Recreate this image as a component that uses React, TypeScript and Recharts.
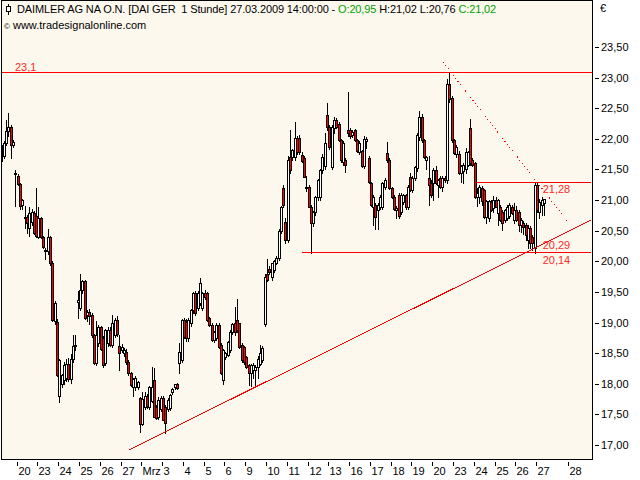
import React from "react";
import {
  ComposedChart,
  Bar,
  XAxis,
  YAxis,
  CartesianGrid,
  ReferenceLine,
  ReferenceDot,
} from "recharts";

// hourly candles, [open, high, low, close]
const candles: number[][] = [
  [21.82, 21.9, 21.63, 21.8], [21.72, 21.96, 21.68, 21.94], [21.94, 22.3, 21.9, 22.12], [22.12, 22.42, 22.05, 22.2],
  [22.2, 22.22, 21.68, 21.9], [21.9, 21.98, 21.86, 21.95], [21.43, 21.49, 20.9, 21.45], [21.4, 21.42, 21.24, 21.26],
  [21.26, 21.28, 20.85, 20.9], [20.92, 21.02, 20.86, 21.0], [20.73, 20.9, 20.55, 20.72], [20.72, 20.75, 20.47, 20.63],
  [20.55, 20.88, 20.41, 20.79], [20.64, 20.85, 20.6, 20.81], [20.79, 20.82, 20.44, 20.46], [20.74, 21.2, 20.4, 20.42],
  [20.4, 20.89, 20.38, 20.7], [20.7, 20.72, 20.38, 20.4], [20.4, 20.42, 20.22, 20.24], [20.16, 20.22, 20.03, 20.19],
  [20.16, 20.52, 20.12, 20.4], [20.4, 20.42, 19.94, 19.97], [19.97, 20.0, 19.02, 19.04], [19.02, 19.35, 18.98, 19.32],
  [19.01, 19.05, 18.12, 18.15], [17.8, 18.4, 17.7, 18.38], [17.99, 18.16, 17.95, 18.14], [18.06, 18.35, 18.0, 18.3],
  [18.1, 18.4, 18.05, 18.32], [18.32, 18.42, 18.05, 18.08], [18.08, 18.48, 18.02, 18.4], [18.4, 18.8, 18.35, 18.62],
  [18.62, 18.8, 18.55, 18.64], [19.34, 19.52, 19.08, 19.37], [19.24, 19.8, 19.2, 19.53], [19.53, 19.7, 19.48, 19.67],
  [19.67, 19.7, 19.05, 19.07], [19.12, 19.2, 19.02, 19.17], [19.17, 19.22, 18.98, 19.1], [19.12, 19.15, 18.77, 18.79],
  [18.79, 18.82, 18.32, 18.34], [18.34, 19.03, 18.3, 18.79], [18.67, 18.96, 18.62, 18.93], [18.93, 18.95, 18.55, 18.56],
  [18.75, 18.78, 18.28, 18.31], [18.34, 18.9, 18.3, 18.88], [18.67, 18.92, 18.62, 18.88], [18.88, 18.92, 18.62, 18.64],
  [18.64, 19.13, 18.6, 19.0], [18.8, 19.08, 18.76, 19.04], [19.04, 19.1, 18.78, 18.82], [18.62, 18.8, 18.23, 18.5],
  [18.55, 18.65, 18.52, 18.6], [18.5, 18.58, 18.46, 18.55], [18.52, 18.56, 18.33, 18.35], [18.36, 18.38, 18.15, 18.17],
  [18.17, 18.2, 17.96, 17.98], [17.94, 18.1, 17.8, 18.08], [17.94, 18.12, 17.9, 18.1], [17.95, 18.05, 17.92, 18.03],
  [17.77, 17.78, 17.21, 17.35], [17.35, 17.86, 17.32, 17.75], [17.62, 17.86, 17.58, 17.8], [17.8, 17.84, 17.6, 17.64],
  [17.62, 17.96, 17.58, 17.94], [17.72, 18.27, 17.7, 17.94], [18.06, 18.25, 17.45, 17.46], [17.62, 17.65, 17.42, 17.44],
  [17.46, 17.78, 17.42, 17.73], [17.58, 17.8, 17.55, 17.77], [17.77, 17.8, 17.4, 17.41], [17.62, 17.65, 17.2, 17.36],
  [17.58, 17.76, 17.55, 17.74], [17.6, 17.84, 17.57, 17.82], [17.86, 17.93, 17.84, 17.92], [17.94, 18.0, 17.92, 17.99],
  [18.0, 18.02, 17.92, 17.93], [18.34, 18.67, 18.18, 18.52], [18.39, 19.06, 18.35, 19.04], [19.04, 19.08, 18.75, 18.77],
  [19.01, 19.05, 18.7, 18.74], [18.74, 19.07, 18.7, 19.04], [18.99, 19.22, 18.95, 19.2], [19.2, 19.5, 19.15, 19.48],
  [19.48, 19.52, 19.12, 19.15], [19.24, 19.52, 19.2, 19.49], [19.32, 19.73, 19.28, 19.65], [19.24, 19.5, 19.2, 19.48],
  [19.49, 19.53, 19.38, 19.42], [19.48, 19.5, 19.02, 19.04], [19.07, 19.09, 18.94, 18.96], [18.96, 18.99, 18.7, 18.71],
  [18.71, 18.86, 18.68, 18.84], [18.75, 18.99, 18.72, 18.96], [18.96, 18.99, 18.58, 18.6], [18.63, 18.66, 18.16, 18.18],
  [18.06, 18.56, 18.0, 18.55], [18.44, 18.52, 18.4, 18.5], [18.47, 18.7, 18.45, 18.68], [18.55, 18.88, 18.52, 18.84],
  [18.84, 19.0, 18.82, 18.98], [19.0, 19.25, 18.8, 18.84], [19.04, 19.38, 18.85, 18.88], [18.99, 19.0, 18.58, 18.6],
  [18.63, 18.66, 18.36, 18.38], [18.6, 18.62, 18.33, 18.35], [18.43, 18.45, 18.25, 18.27], [18.3, 18.32, 17.98, 18.18],
  [18.18, 18.32, 17.96, 18.3], [18.22, 18.34, 18.1, 18.3], [18.22, 18.3, 17.98, 18.27], [18.27, 18.45, 18.1, 18.4],
  [18.33, 18.63, 18.3, 18.5], [18.39, 18.62, 18.35, 18.58], [18.98, 19.8, 18.95, 19.74], [19.79, 20.03, 19.68, 19.7],
  [19.88, 19.92, 19.8, 19.82], [19.74, 19.98, 19.7, 19.97], [19.86, 20.02, 19.83, 20.0], [19.97, 20.08, 19.95, 20.05],
  [20.05, 20.52, 20.02, 20.5], [20.5, 20.9, 20.47, 20.88], [21.2, 21.25, 20.88, 20.92], [20.64, 20.7, 20.3, 20.35],
  [20.35, 21.72, 20.32, 21.65], [21.7, 22.14, 21.45, 21.49], [21.7, 21.84, 21.65, 21.82], [21.7, 22.27, 21.66, 22.01],
  [22.01, 22.05, 21.76, 21.79], [22.01, 22.06, 21.75, 21.78], [21.74, 21.78, 21.62, 21.63], [21.69, 21.72, 21.37, 21.38],
  [21.2, 21.4, 21.15, 21.22], [21.21, 21.24, 20.88, 20.89], [20.89, 20.92, 20.14, 20.63], [20.63, 20.82, 20.58, 20.8],
  [20.8, 21.06, 20.75, 21.05], [21.05, 21.34, 21.0, 21.32], [21.05, 21.5, 21.0, 21.49], [21.49, 21.75, 21.45, 21.7],
  [21.55, 22.1, 21.5, 21.93], [22.39, 22.58, 22.15, 22.19], [22.19, 22.22, 21.84, 21.86], [21.54, 22.22, 21.5, 22.19],
  [22.17, 22.35, 22.1, 22.3], [22.31, 22.34, 22.18, 22.2], [22.24, 22.27, 21.96, 21.98], [21.98, 22.0, 21.62, 21.65],
  [21.62, 21.96, 21.58, 21.93], [21.65, 21.68, 21.46, 21.57], [22.14, 22.76, 22.05, 22.1], [22.14, 22.18, 22.02, 22.04],
  [22.06, 22.15, 22.03, 22.11], [22.14, 22.16, 21.96, 21.98], [21.98, 22.0, 21.78, 21.8], [21.78, 21.97, 21.76, 21.93],
  [21.8, 21.82, 21.54, 21.55], [21.55, 22.05, 21.52, 22.0], [21.96, 22.03, 21.85, 22.0], [21.69, 21.72, 21.28, 21.3],
  [21.28, 21.3, 20.9, 20.92], [20.89, 21.08, 20.6, 21.05], [20.92, 20.95, 20.52, 20.72], [20.84, 20.95, 20.52, 20.92],
  [20.89, 21.08, 20.85, 21.05], [20.89, 21.3, 20.85, 21.28], [21.22, 21.36, 21.18, 21.33], [21.77, 21.95, 21.62, 21.65],
  [21.65, 21.68, 21.18, 21.2], [21.2, 21.22, 21.04, 21.05], [21.05, 21.08, 20.83, 20.85], [20.84, 20.9, 20.7, 20.87],
  [21.08, 21.12, 20.7, 20.74], [20.81, 21.12, 20.78, 21.08], [20.97, 21.1, 20.94, 21.08], [21.08, 21.1, 20.86, 20.88],
  [20.88, 21.25, 20.85, 21.21], [21.38, 21.45, 21.15, 21.16], [21.16, 21.4, 21.13, 21.36], [21.36, 21.56, 21.33, 21.54],
  [21.52, 22.1, 21.48, 22.06], [22.03, 22.45, 21.98, 22.36], [22.36, 22.4, 21.95, 21.98], [21.98, 22.0, 21.68, 21.7],
  [21.65, 21.72, 21.5, 21.7], [21.36, 21.72, 20.92, 21.25], [21.28, 21.32, 21.05, 21.08], [21.28, 21.52, 21.0, 21.49],
  [21.49, 21.55, 21.26, 21.28], [21.25, 21.35, 21.05, 21.33], [21.36, 21.4, 21.2, 21.21], [21.21, 21.4, 21.15, 21.36],
  [21.36, 21.4, 21.3, 21.32], [21.32, 22.98, 21.28, 22.9], [22.9, 23.08, 22.6, 22.65], [22.67, 22.7, 21.95, 21.98],
  [21.98, 22.0, 21.75, 21.77], [21.76, 21.9, 21.7, 21.86], [21.76, 21.8, 21.42, 21.45], [21.45, 21.58, 21.3, 21.55],
  [21.48, 21.6, 21.28, 21.57], [21.5, 21.85, 21.45, 21.78], [21.57, 21.8, 21.55, 21.78], [22.18, 22.33, 21.58, 21.6],
  [21.65, 21.68, 21.56, 21.57], [21.6, 21.62, 21.04, 21.05], [21.05, 21.2, 20.9, 21.12], [21.05, 21.25, 20.95, 21.22],
  [21.2, 21.23, 20.92, 20.98], [21.16, 21.18, 20.7, 20.72], [20.72, 21.0, 20.62, 20.98], [20.7, 21.0, 20.65, 20.98],
  [20.97, 21.0, 20.82, 20.84], [20.87, 21.06, 20.8, 21.0], [21.0, 21.05, 20.88, 20.89], [20.79, 21.02, 20.6, 21.0],
  [20.89, 20.92, 20.65, 20.67], [20.81, 20.84, 20.51, 20.63], [20.67, 20.86, 20.64, 20.84], [20.71, 20.92, 20.68, 20.89],
  [20.74, 20.95, 20.7, 20.92], [20.89, 20.92, 20.78, 20.79], [20.67, 20.95, 20.62, 20.84], [20.84, 20.9, 20.66, 20.67],
  [20.81, 20.84, 20.5, 20.59], [20.59, 20.7, 20.48, 20.67], [20.62, 20.66, 20.45, 20.56], [20.59, 20.62, 20.35, 20.43],
  [20.35, 20.6, 20.22, 20.54], [20.54, 20.58, 20.22, 20.3], [20.4, 20.43, 20.18, 20.3], [20.22, 21.28, 20.14, 21.25],
  [21.25, 21.28, 20.8, 20.84], [20.8, 21.02, 20.7, 20.97], [20.92, 21.05, 20.76, 21.0], [20.95, 21.02, 20.76, 21.02],
];

const dayLabels = [
  "20", "23", "24", "25", "26", "27", "Mrz", "3", "4", "5", "6", "9", "10", "11",
  "12", "13", "16", "17", "18", "19", "20", "23", "24", "25", "26", "27", "28",
];
// bar slot where each day starts
const dayStarts = [
  7, 16, 25, 34, 43, 52, 61, 70, 79, 88, 97, 106, 115, 124, 133, 142, 151, 160,
  169, 178, 187, 196, 205, 214, 223, 232, 246,
];
const priceTicks = [17, 17.5, 18, 18.5, 19, 19.5, 20, 20.5, 21, 21.5, 22, 22.5, 23, 23.5];
const slotCount = 256; // includes empty future slots on the right

const resistance = 23.08;
const rangeHigh = 21.28;
const support = 20.14;
const trendAtLast = 20.29;
const trendLine = [{ x: 55, y: 16.92 }, { x: 255, y: 20.67 }];
const fanLine = [{ x: 191, y: 23.25 }, { x: 245, y: 20.65 }];
const supportLine = [{ x: 130, y: support }, { x: 255, y: support }];
const rangeLine = [{ x: 205, y: rangeHigh }, { x: 255, y: rangeHigh }];

const FONT = '"Liberation Sans", Arial, sans-serif';
const RED = "#ff0000";

const rows = Array.from({ length: slotCount }, (_, i) => {
  const k = candles[i];
  return k ? { i, o: k[0], h: k[1], l: k[2], c: k[3] } : { i };
});

function Candle(props: any) {
  const { x, y, width, height, payload } = props;
  if (!payload || payload.o == null) return <g />;
  const top = Math.min(y, y + height);
  const span = Math.abs(height);
  const range = payload.h - payload.l;
  const py = (v: number) => (range > 0 ? top + ((payload.h - v) / range) * span : top);
  const cx = Math.floor(x + width / 2);
  const yo = Math.round(py(payload.o));
  const yc = Math.round(py(payload.c));
  const bt = Math.min(yo, yc);
  const bb = Math.max(yo, yc);
  return (
    <g shapeRendering="crispEdges">
      <line x1={cx + 0.5} x2={cx + 0.5} y1={Math.round(top)} y2={Math.round(top + span) + 1} stroke="#000" />
      <rect
        x={cx - 0.5}
        y={bt + 0.5}
        width={2}
        height={Math.max(bb - bt, 1)}
        fill={payload.c >= payload.o ? "#ffffff" : RED}
        stroke="#000"
      />
    </g>
  );
}

function PriceTick(props: any) {
  const { x, y, payload } = props;
  const yy = Math.round(y) + 0.5;
  return (
    <g>
      <line x1={x + 3} x2={x + 7} y1={yy} y2={yy} stroke="#000" shapeRendering="crispEdges" />
      <text x={x + 9} y={y + 4} fontSize={11} fontFamily={FONT} fill="#000">
        {Number(payload.value).toFixed(2).replace(".", ",")}
      </text>
    </g>
  );
}

function DayTick(props: any) {
  const { x, y, payload } = props;
  const k = dayStarts.indexOf(Number(payload.value));
  if (k < 0) return <g />;
  const tx = Math.floor(x - 1.15) + 0.5;
  return (
    <g>
      <line x1={tx} x2={tx} y1={y + 3} y2={y + 7} stroke="#000" shapeRendering="crispEdges" />
      <text x={tx + 1} y={y + 16} fontSize={11} fontFamily={FONT} fill="#000">
        {dayLabels[k]}
      </text>
    </g>
  );
}

function LevelTag(props: any) {
  const { viewBox, text, dx = -2, dy = 10 } = props;
  if (!viewBox) return null;
  return (
    <text x={viewBox.x + dx} y={viewBox.y + dy} fontSize={11} fontFamily={FONT} fill="#ff2a2a">
      {text}
    </text>
  );
}

export default function App() {
  return (
    <div style={{ position: "absolute", left: 0, top: 0, width: 640, height: 480, background: "#fff" }}>
      <ComposedChart
        width={640}
        height={480}
        data={rows}
        margin={{ top: 1, right: 0, bottom: 0, left: 1 }}
        barCategoryGap={0}
        barGap={0}
      >
        <CartesianGrid fill="#fdf8ee" stroke="none" />
        <XAxis
          dataKey="i"
          interval={0}
          height={21}
          axisLine={false}
          tickLine={false}
          tickSize={0}
          tickMargin={0}
          tick={<DayTick />}
        />
        <YAxis
          orientation="right"
          type="number"
          domain={[16.771, 24.251]}
          ticks={priceTicks}
          interval={0}
          width={48}
          allowDataOverflow
          axisLine={false}
          tickLine={false}
          tickSize={0}
          tickMargin={0}
          tick={<PriceTick />}
        />
        <Bar
          dataKey={(d: any) => (d.o == null ? null : [d.l, d.h])}
          shape={<Candle />}
          isAnimationActive={false}
        />
        <ReferenceLine
          y={resistance}
          stroke={RED}
          shapeRendering="crispEdges"
          label={<LevelTag text="23,1" dx={14} dy={-2} />}
        />
        <ReferenceLine segment={rangeLine} stroke={RED} shapeRendering="crispEdges" />
        <ReferenceLine segment={supportLine} stroke={RED} shapeRendering="crispEdges" />
        <ReferenceLine segment={trendLine} stroke={RED} shapeRendering="crispEdges" />
        <ReferenceLine segment={fanLine} stroke={RED} strokeDasharray="1 3" shapeRendering="crispEdges" />
        <ReferenceDot x={235} y={rangeHigh} r={0} fill="none" stroke="none" label={<LevelTag text="21,28" />} />
        <ReferenceDot x={235} y={trendAtLast} r={0} fill="none" stroke="none" label={<LevelTag text="20,29" dy={5} />} />
        <ReferenceDot x={235} y={support} r={0} fill="none" stroke="none" label={<LevelTag text="20,14" dy={11} />} />
      </ComposedChart>

      <div
        style={{
          position: "absolute",
          left: 1,
          top: 0,
          width: 592,
          height: 460,
          boxSizing: "border-box",
          border: "1px solid #000",
          pointerEvents: "none",
        }}
      />
      <div style={{ position: "absolute", left: 8, top: 4, width: 1, height: 11, background: "#000" }} />
      <div
        style={{
          position: "absolute",
          left: 6,
          top: 6,
          width: 5,
          height: 6,
          boxSizing: "border-box",
          border: "1px solid #000",
          background: "#fff",
        }}
      />
      <div
        style={{
          position: "absolute",
          left: 17,
          top: 3,
          fontFamily: FONT,
          fontSize: 11,
          lineHeight: "13px",
          letterSpacing: "-0.13px",
          whiteSpace: "pre",
          color: "#000",
        }}
      >
        {"DAIMLER AG NA O.N. [DAI GER  1 Stunde] 27.03.2009 14:00:00 - "}
        <span style={{ color: "#00a000" }}>O:20,95</span>
        {" H:21,02 L:20,76 "}
        <span style={{ color: "#00a000" }}>C:21,02</span>
      </div>
      <div
        style={{
          position: "absolute",
          left: 4,
          top: 19,
          fontFamily: FONT,
          fontSize: 11,
          lineHeight: "13px",
          whiteSpace: "pre",
          color: "#000",
        }}
      >
        <span style={{ fontSize: 8 }}>©</span> www.tradesignalonline.com
      </div>
      <div
        style={{
          position: "absolute",
          left: 600,
          top: 2,
          fontFamily: FONT,
          fontSize: 11,
          lineHeight: "13px",
          color: "#000",
        }}
      >
        €
      </div>
    </div>
  );
}
